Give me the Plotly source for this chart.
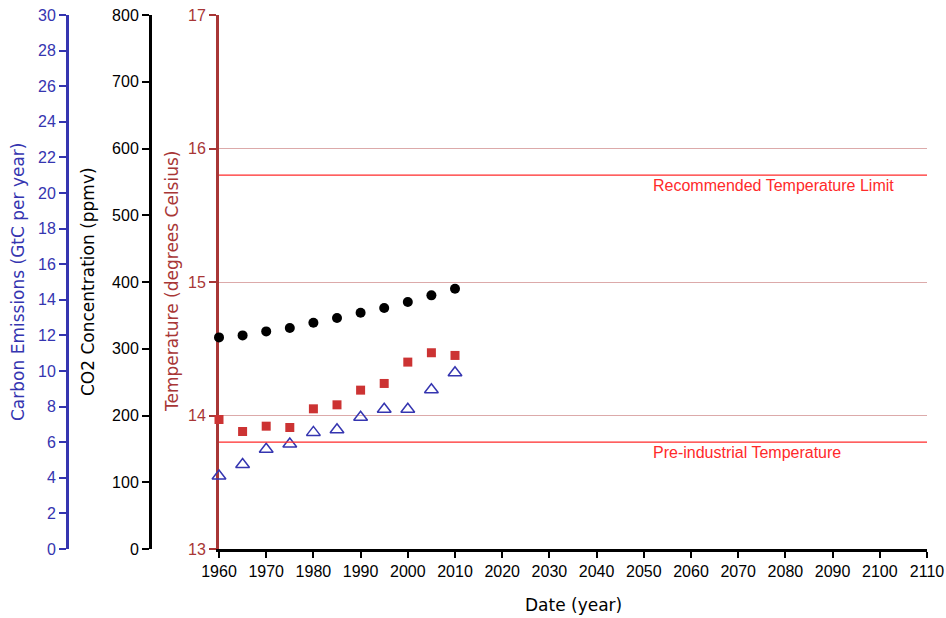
import plotly.graph_objects as go

years = [1960, 1965, 1970, 1975, 1980, 1985, 1990, 1995, 2000, 2005, 2010]
co2_ppmv = [317, 320, 326, 331, 339, 346, 354, 361, 370, 380, 390]
temperature_c = [13.97, 13.88, 13.92, 13.91, 14.05, 14.08, 14.19, 14.24, 14.40, 14.47, 14.45]
emissions_gtc = [4.1, 4.75, 5.6, 5.9, 6.55, 6.7, 7.4, 7.85, 7.85, 8.95, 9.9]

x_ticks = list(range(1960, 2111, 10))
temp_ticks = [13, 14, 15, 16, 17]
co2_ticks = list(range(0, 801, 100))
emis_ticks = list(range(0, 31, 2))

ref_levels = [15.8, 13.8]
ref_labels = ["Recommended Temperature Limit", "Pre-industrial Temperature"]
ref_label_x = 2051.5

BLUE = "#3535b0"
BROWN = "#a83636"
GRID = "#dcaaaa"
RED = "#ff2a2a"
SQUARE = "#cc3333"

W, H = 946, 618
L_PX, R_PX = 219, 927

fig = go.Figure()

fig.add_trace(go.Scatter(
    x=years, y=co2_ppmv, yaxis="y2", mode="markers",
    marker=dict(symbol="circle", size=10, color="black"),
    cliponaxis=False, showlegend=False))
fig.add_trace(go.Scatter(
    x=years, y=temperature_c, yaxis="y", mode="markers",
    marker=dict(symbol="square", size=9, color=SQUARE),
    cliponaxis=False, showlegend=False))
fig.add_trace(go.Scatter(
    x=years, y=emissions_gtc, yaxis="y3", mode="markers",
    marker=dict(symbol="triangle-up-open", size=12, color=BLUE,
                line=dict(width=1.5, color=BLUE)),
    cliponaxis=False, showlegend=False))

shapes = []
annotations = []
for lvl, lab in zip(ref_levels, ref_labels):
    shapes.append(dict(type="line", xref="x", yref="y", x0=x_ticks[0], x1=x_ticks[-1],
                       y0=lvl, y1=lvl, line=dict(color=RED, width=1.2), layer="above"))
    annotations.append(dict(x=ref_label_x, y=lvl, xref="x", yref="y", text=lab,
                            showarrow=False, xanchor="left", yanchor="top",
                            font=dict(family="Liberation Sans, Arial", size=16, color=RED)))

title_font = "DejaVu Sans, Verdana"
annotations += [
    dict(x=18 / W, y=0.5, xref="paper", yref="paper", text="Carbon Emissions (GtC per year)",
         textangle=-90, showarrow=False, xanchor="center", yanchor="middle",
         font=dict(family=title_font, size=17, color=BLUE)),
    dict(x=88 / W, y=0.5, xref="paper", yref="paper", text="CO2 Concentration (ppmv)",
         textangle=-90, showarrow=False, xanchor="center", yanchor="middle",
         font=dict(family=title_font, size=17, color="black")),
    dict(x=172 / W, y=0.5, xref="paper", yref="paper", text="Temperature (degrees Celsius)",
         textangle=-90, showarrow=False, xanchor="center", yanchor="middle",
         font=dict(family=title_font, size=17, color=BROWN)),
    dict(x=0.5 * (L_PX + R_PX) / W, y=-56 / 534, xref="paper", yref="paper", text="Date (year)",
         showarrow=False, xanchor="center", yanchor="middle",
         font=dict(family=title_font, size=17, color="black")),
]

tick_font = dict(family="Liberation Sans, Arial", size=16)

fig.update_layout(
    width=W, height=H,
    margin=dict(l=0, r=0, t=15, b=69),
    paper_bgcolor="white", plot_bgcolor="white",
    xaxis=dict(domain=[L_PX / W, R_PX / W], range=[x_ticks[0], x_ticks[-1]],
               tickmode="array", tickvals=x_ticks, ticks="outside", ticklen=6,
               tickwidth=1.5, tickcolor="black", showline=True, linecolor="black",
               linewidth=3, showgrid=False, zeroline=False, automargin=False,
               tickfont=dict(color="black", **tick_font)),
    yaxis=dict(range=[temp_ticks[0], temp_ticks[-1]], tickmode="array", tickvals=temp_ticks,
               ticks="outside", ticklen=7, tickwidth=1.5, tickcolor=BROWN,
               showline=True, linecolor=BROWN, linewidth=3, showgrid=True,
               gridcolor=GRID, gridwidth=1.2, zeroline=False, automargin=False,
               layer="below traces", tickfont=dict(color=BROWN, **tick_font)),
    yaxis2=dict(range=[co2_ticks[0], co2_ticks[-1]], tickmode="array", tickvals=co2_ticks,
                overlaying="y", anchor="free", position=150 / W, side="left",
                ticks="outside", ticklen=7, tickwidth=1.5, tickcolor="black",
                showline=True, linecolor="black", linewidth=3, showgrid=False,
                zeroline=False, automargin=False, tickfont=dict(color="black", **tick_font)),
    yaxis3=dict(range=[emis_ticks[0], emis_ticks[-1]], tickmode="array", tickvals=emis_ticks,
                overlaying="y", anchor="free", position=67 / W, side="left",
                ticks="outside", ticklen=7, tickwidth=1.5, tickcolor=BLUE,
                showline=True, linecolor=BLUE, linewidth=3, showgrid=False,
                zeroline=False, automargin=False, tickfont=dict(color=BLUE, **tick_font)),
    shapes=shapes,
    annotations=annotations,
)

fig.write_html("out.html", config={"displayModeBar": False},
               post_script="document.body.style.margin='0px';document.body.style.overflow='hidden';")
